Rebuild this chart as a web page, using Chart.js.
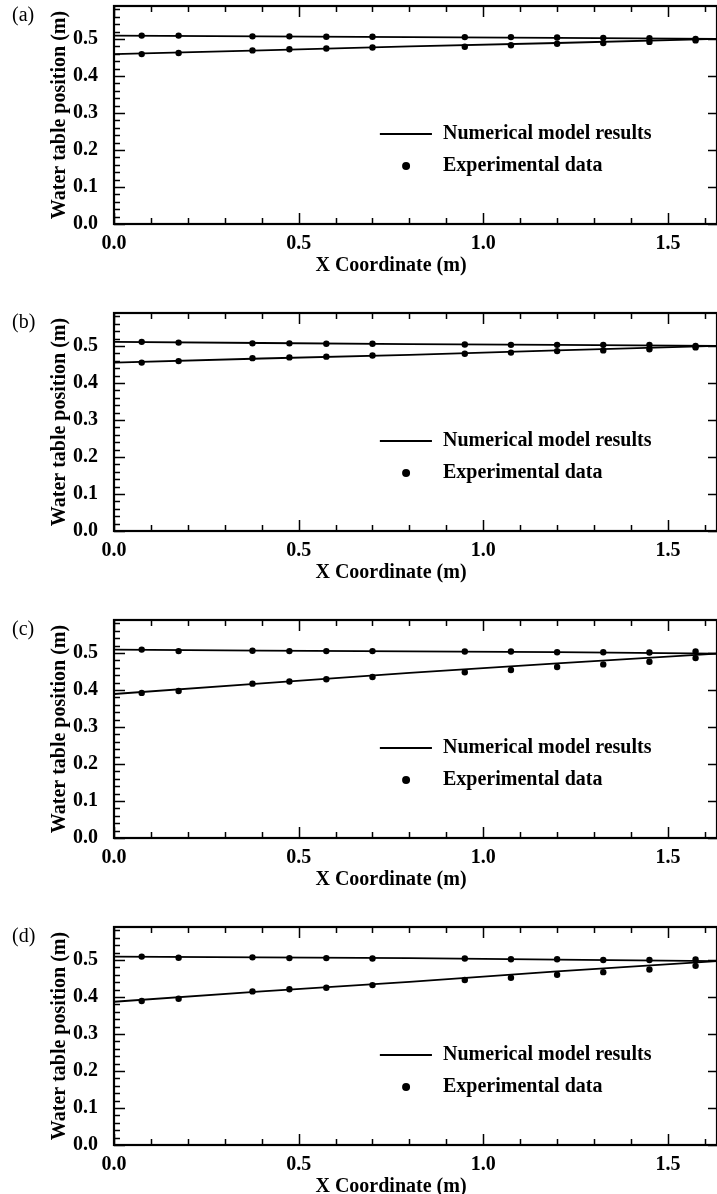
<!DOCTYPE html>
<html>
<head>
<meta charset="utf-8">
<script src="https://cdn.jsdelivr.net/npm/chart.js@4/dist/chart.umd.min.js"></script>
<style>
  html, body { margin: 0; padding: 0; background: #fff; overflow: hidden; }
  body { width: 717px; height: 1194px; position: relative; }
  canvas { position: absolute; left: 0; }
</style>
</head>
<body>
<canvas id="panel-a" style="top:0px" width="717" height="300"></canvas>
<canvas id="panel-b" style="top:307px" width="717" height="300"></canvas>
<canvas id="panel-c" style="top:614px" width="717" height="300"></canvas>
<canvas id="panel-d" style="top:921px" width="717" height="300"></canvas>
<script>
// measurement positions along the flume (m)
const expX = [0.075, 0.175, 0.375, 0.475, 0.575, 0.7, 0.95, 1.075, 1.2, 1.325, 1.45, 1.575];
// nodes where the model curves were read
const modelX = [0, 0.4, 0.8, 1.2, 1.633];

// (a)
const expUpA = [0.509, 0.509, 0.507, 0.507, 0.506, 0.506, 0.505, 0.505, 0.504, 0.503, 0.502, 0.500];
const expLowA = [0.459, 0.462, 0.469, 0.472, 0.474, 0.477, 0.479, 0.483, 0.487, 0.489, 0.492, 0.496];
const modelUpA = [0.509, 0.507, 0.505, 0.503, 0.500];
const modelLowA = [0.459, 0.469, 0.480, 0.489, 0.500];
// (b)
const expUpB = [0.511, 0.509, 0.507, 0.507, 0.506, 0.506, 0.504, 0.503, 0.503, 0.503, 0.503, 0.500];
const expLowB = [0.455, 0.459, 0.467, 0.469, 0.471, 0.474, 0.479, 0.482, 0.486, 0.488, 0.491, 0.496];
const modelUpB = [0.511, 0.508, 0.505, 0.503, 0.500];
const modelLowB = [0.455, 0.466, 0.476, 0.488, 0.500];
// (c)
const expUpC = [0.509, 0.505, 0.506, 0.505, 0.505, 0.505, 0.504, 0.504, 0.502, 0.502, 0.501, 0.504];
const expLowC = [0.392, 0.397, 0.417, 0.423, 0.429, 0.435, 0.448, 0.454, 0.462, 0.469, 0.476, 0.486];
const modelUpC = [0.509, 0.506, 0.5045, 0.502, 0.498];
const modelLowC = [0.389, 0.418, 0.446, 0.472, 0.498];
// (d)
const expUpD = [0.509, 0.506, 0.507, 0.505, 0.505, 0.504, 0.504, 0.502, 0.502, 0.500, 0.500, 0.501];
const expLowD = [0.389, 0.395, 0.415, 0.421, 0.425, 0.432, 0.446, 0.452, 0.460, 0.467, 0.474, 0.484];
const modelUpD = [0.509, 0.507, 0.505, 0.501, 0.497];
const modelLowD = [0.387, 0.415, 0.441, 0.469, 0.497];

// axis ticks
const xTickLabels = [0, 0.5, 1.0, 1.5];
const yTickLabels = [0, 0.1, 0.2, 0.3, 0.4, 0.5];
const xMinorTicks = [0, 0.1, 0.2, 0.3, 0.4, 0.5, 0.6, 0.7, 0.8, 0.9, 1.0, 1.1, 1.2, 1.3, 1.4, 1.5, 1.6];
const yMinorTicks = [0, 0.02, 0.04, 0.06, 0.08, 0.1, 0.12, 0.14, 0.16, 0.18, 0.2, 0.22, 0.24, 0.26, 0.28,
  0.3, 0.32, 0.34, 0.36, 0.38, 0.4, 0.42, 0.44, 0.46, 0.48, 0.5, 0.52, 0.54, 0.56, 0.58];

const SERIF = '"Liberation Serif", "Times New Roman", serif';
Chart.defaults.font.family = SERIF;
Chart.defaults.color = '#000';

const isMultiple = (v, step) => Math.abs(v / step - Math.round(v / step)) < 1e-6;

// box, inward ticks, legend and panel tag
const decor = {
  id: 'decor',
  afterDraw(chart, args, opts) {
    const { ctx, chartArea: a, scales: { x, y } } = chart;
    ctx.save();
    ctx.strokeStyle = '#000';
    ctx.fillStyle = '#000';

    ctx.lineWidth = 1.5;
    ctx.beginPath();
    xMinorTicks.forEach(v => {
      const px = Math.round(x.getPixelForValue(v)) + 0.5;
      const len = isMultiple(v, 0.5) ? 11 : 6;
      ctx.moveTo(px, a.bottom); ctx.lineTo(px, a.bottom - len);
      ctx.moveTo(px, a.top); ctx.lineTo(px, a.top + len);
    });
    yMinorTicks.forEach(v => {
      const py = Math.round(y.getPixelForValue(v)) + 0.5;
      const major = isMultiple(v, 0.1);
      ctx.moveTo(a.left, py); ctx.lineTo(a.left + (major ? 11 : 6), py);
      if (major) { ctx.moveTo(a.right, py); ctx.lineTo(a.right - 9, py); }
    });
    ctx.stroke();

    ctx.lineWidth = 2.2;
    ctx.strokeRect(a.left, a.top, a.right - a.left, a.bottom - a.top);

    // legend
    const ly1 = y.getPixelForValue(0.243), ly2 = y.getPixelForValue(0.157);
    ctx.lineWidth = 2;
    ctx.beginPath();
    ctx.moveTo(x.getPixelForValue(0.72), ly1);
    ctx.lineTo(x.getPixelForValue(0.861), ly1);
    ctx.stroke();
    ctx.beginPath();
    ctx.arc(x.getPixelForValue(0.791), ly2, 4, 0, Math.PI * 2);
    ctx.fill();
    ctx.font = 'bold 20px ' + SERIF;
    ctx.textBaseline = 'middle';
    ctx.textAlign = 'left';
    ctx.fillText('Numerical model results', x.getPixelForValue(0.891), ly1);
    ctx.fillText('Experimental data', x.getPixelForValue(0.891), ly2);

    // x axis title
    ctx.textAlign = 'center';
    ctx.fillText('X Coordinate (m)', 391, 266);

    // panel tag
    ctx.font = '20px ' + SERIF;
    ctx.textAlign = 'left';
    ctx.fillText(opts.tag, 12, 16);
    ctx.restore();
  }
};

function makeChart(id, tag, upExp, lowExp, upModel, lowModel) {
  const pts = (xs, ys) => xs.map((v, i) => ({ x: v, y: ys[i] }));
  const lineSet = ys => ({
    data: pts(modelX, ys), showLine: true, borderColor: '#000', borderWidth: 1.8,
    pointRadius: 0, tension: 0
  });
  const dotSet = ys => ({
    data: pts(expX, ys), showLine: false, pointRadius: 3.2,
    backgroundColor: '#000', borderColor: '#000', borderWidth: 0
  });

  new Chart(document.getElementById(id), {
    type: 'scatter',
    data: { datasets: [lineSet(upModel), lineSet(lowModel), dotSet(upExp), dotSet(lowExp)] },
    options: {
      responsive: false,
      animation: false,
      // no extra room for point overflow: the frame runs to the page edge
      layout: { autoPadding: false, padding: { top: 6, right: 0, bottom: 0, left: 0 } },
      plugins: { legend: { display: false }, tooltip: { enabled: false }, decor: { tag } },
      scales: {
        x: {
          type: 'linear', min: 0, max: 1.633,
          grid: { display: false }, border: { display: false },
          afterBuildTicks: s => { s.ticks = xTickLabels.map(v => ({ value: v })); },
          afterFit: s => { s.height = 76; s.paddingLeft = 0; s.paddingRight = 0; },
          ticks: {
            padding: 0, maxRotation: 0, autoSkip: false,
            font: { size: 20, weight: 'bold' },
            callback: v => v.toFixed(1)
          }
        },
        y: {
          type: 'linear', min: 0, max: 0.589,
          grid: { display: false }, border: { display: false },
          afterBuildTicks: s => { s.ticks = yTickLabels.map(v => ({ value: v })); },
          afterFit: s => { s.width = 114; s.paddingTop = 0; s.paddingBottom = 0; },
          ticks: {
            padding: 8, autoSkip: false,
            font: { size: 20, weight: 'bold' },
            callback: v => v.toFixed(1)
          },
          title: {
            display: true, text: 'Water table position (m)',
            font: { size: 20, weight: 'bold' }, padding: { top: 48 }
          }
        }
      }
    },
    plugins: [decor]
  });
}

makeChart('panel-a', '(a)', expUpA, expLowA, modelUpA, modelLowA);
makeChart('panel-b', '(b)', expUpB, expLowB, modelUpB, modelLowB);
makeChart('panel-c', '(c)', expUpC, expLowC, modelUpC, modelLowC);
makeChart('panel-d', '(d)', expUpD, expLowD, modelUpD, modelLowD);
</script>
</body>
</html>
